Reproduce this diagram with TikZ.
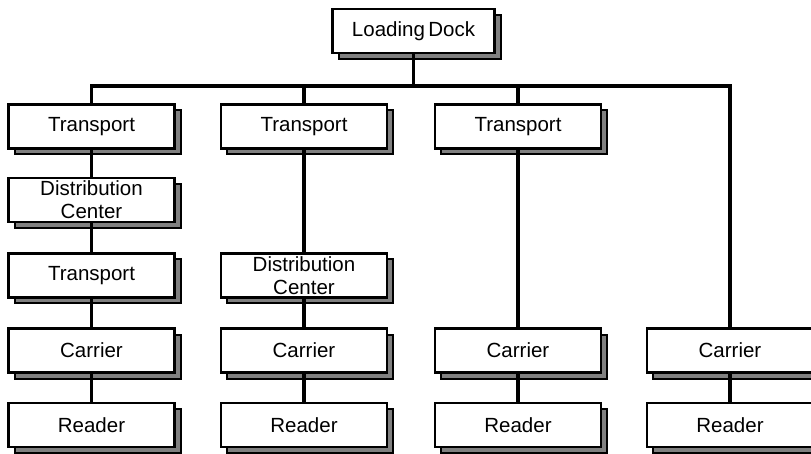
\documentclass[tikz,border=0pt]{standalone}
\usepackage{fontspec}
\setmainfont{Liberation Sans}
\usetikzlibrary{shadows}
\definecolor{shadowgray}{RGB}{128,128,128}
\tikzset{
  box/.style={draw=black, line width=2.6pt, fill=white, rectangle,
    minimum width=166pt, minimum height=44pt, inner sep=0pt, align=center,
    font=\fontsize{20.5}{23}\selectfont,
    copy shadow={shadow xshift=6pt, shadow yshift=-6pt, fill=shadowgray, draw=black, line width=2pt}},
  conn/.style={draw=black, line width=3.5pt}
}
\begin{document}
\begin{tikzpicture}[x=1pt,y=-1pt]
\useasboundingbox (0,0) rectangle (811,454);
\coordinate (busY) at (0,86);
\node[box, minimum width=162pt] (LD) at (413.5,31) {Loading\,Dock};
% column 1
\node[box] (T1a) at (91.5,126.5) {Transport};
\node[box] (D1) at (91.5,200) {Distribution\\Center};
\node[box] (T1b) at (91.5,275.5) {Transport};
\node[box] (C1) at (91.5,350.5) {Carrier};
\node[box] (R1) at (91.5,425) {Reader};
% column 2
\node[box] (T2) at (304,126.5) {\raisebox{4pt}{Transport}};
\node[box] (D2) at (304,275.5) {Distribution\\Center};
\node[box] (C2) at (304,350.5) {Carrier};
\node[box] (R2) at (304,425) {Reader};
% column 3
\node[box] (T3) at (518,126.5) {\raisebox{2pt}{Transport}};
\node[box] (C3) at (518,350.5) {Carrier};
\node[box] (R3) at (518,425) {Reader};
% column 4
\node[box] (C4) at (730,350.5) {Carrier};
\node[box] (R4) at (730,425) {Reader};
% connectors
\draw[conn] (LD.south) -- (LD.south |- busY);
\draw[conn] (T1a.north) -- (T1a.north |- busY) -- (C4.north |- busY) -- (C4.north);
\draw[conn] (T2.north) -- (T2.north |- busY);
\draw[conn] (T3.north) -- (T3.north |- busY);
\draw[conn] (T1a.south) -- (D1.north);
\draw[conn] (D1.south) -- (T1b.north);
\draw[conn] (T1b.south) -- (C1.north);
\draw[conn] (C1.south) -- (R1.north);
\draw[conn] (T2.south) -- (D2.north);
\draw[conn] (D2.south) -- (C2.north);
\draw[conn] (C2.south) -- (R2.north);
\draw[conn] (T3.south) -- (C3.north);
\draw[conn] (C3.south) -- (R3.north);
\draw[conn] (C4.south) -- (R4.north);
\end{tikzpicture}
\end{document}
